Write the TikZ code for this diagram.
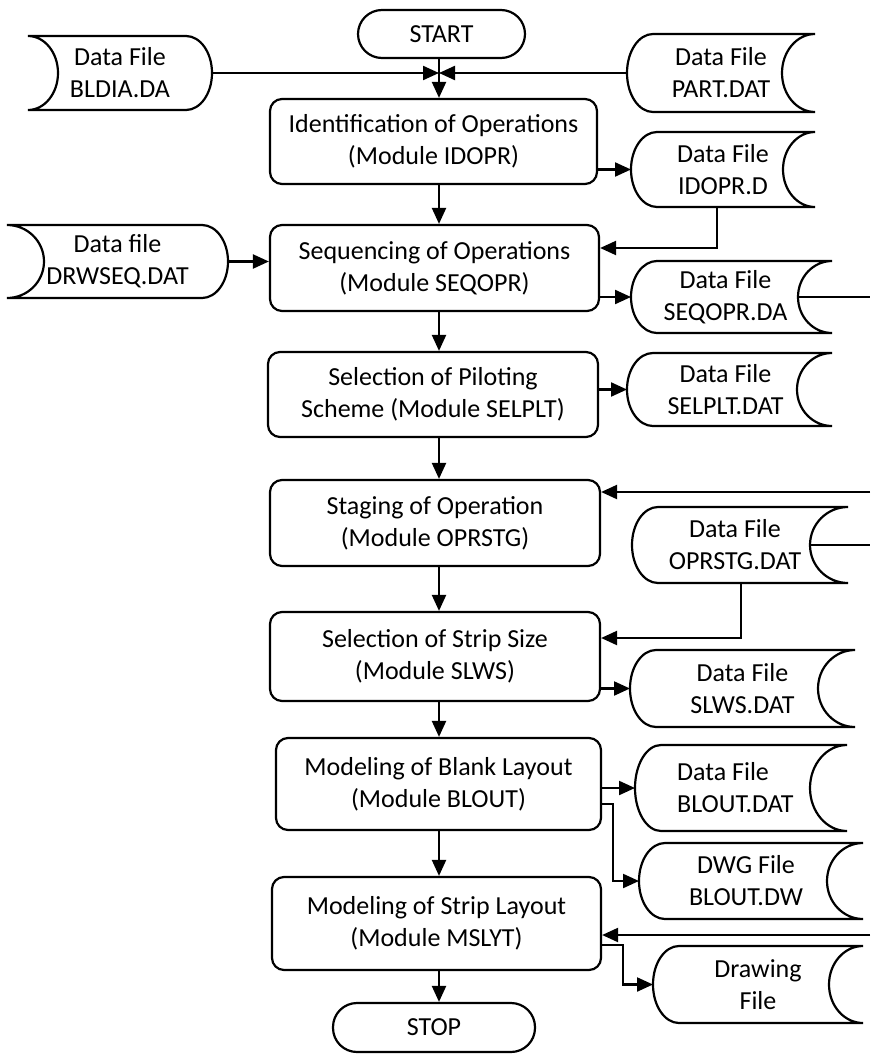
\documentclass[tikz,border=0pt]{standalone}
\usepackage{fontspec}
\setmainfont{Carlito}
\usetikzlibrary{arrows.meta}
\tikzset{
  lw/.style={line width=2.2pt},
  proc/.style={draw, lw, rounded corners=12pt, align=center, inner sep=0pt},
  term/.style={draw, lw, rounded corners=24pt, align=center, inner sep=0pt},
  arr/.style={lw, -{Triangle[length=16pt,width=14pt]}},
  ftext/.style={align=center, inner sep=0pt},
  fbox/.style={inner sep=0pt, outer sep=0pt, draw=none},
  every node/.style={font=\fontsize{26}{32}\selectfont}
}
% right-side file: convex left, concave right
\newcommand{\rfile}[8][]{%
 \pgfmathsetmacro\fL{#3}\pgfmathsetmacro\fT{#4}\pgfmathsetmacro\fR{#5}\pgfmathsetmacro\fB{#6}%
 \pgfmathsetmacro\fM{(\fT+\fB)/2}\pgfmathsetmacro\fh{(\fB-\fT)/2}%
 \pgfmathsetmacro\fd{#7}\pgfmathsetmacro\fc{26}%
 \pgfmathsetmacro\fxa{\fL+\fc}\pgfmathsetmacro\fxb{\fR-0.552*\fd}\pgfmathsetmacro\fxc{\fR-\fd}%
 \pgfmathsetmacro\fxe{\fL+\fc-0.552*\fc}\pgfmathsetmacro\fya{\fM-0.552*\fh}\pgfmathsetmacro\fyb{\fM+0.552*\fh}%
 \pgfmathsetmacro\fX{(\fL+\fR)/2}%
 \node[fbox, minimum width={(\fR-\fL)*1pt}, minimum height={(\fB-\fT)*1pt}] (#2) at (\fX,\fM) {};
 \coordinate (#2-c) at (\fxc,\fM);
 \draw[lw] (\fxa,\fT) -- (\fR,\fT) .. controls (\fxb,\fT) and (\fxc,\fya) .. (\fxc,\fM)
   .. controls (\fxc,\fyb) and (\fxb,\fB) .. (\fR,\fB) -- (\fxa,\fB)
   .. controls (\fxe,\fB) and (\fL,\fyb) .. (\fL,\fM)
   .. controls (\fL,\fya) and (\fxe,\fT) .. (\fxa,\fT) -- cycle;
 \node[ftext,#1] (#2-t) at (\fX,\fM) {#8};
}
% left-side file: concave left, convex right
\newcommand{\lfile}[8][]{%
 \pgfmathsetmacro\fL{#3}\pgfmathsetmacro\fT{#4}\pgfmathsetmacro\fR{#5}\pgfmathsetmacro\fB{#6}%
 \pgfmathsetmacro\fM{(\fT+\fB)/2}\pgfmathsetmacro\fh{(\fB-\fT)/2}%
 \pgfmathsetmacro\fd{#7}\pgfmathsetmacro\fc{26}%
 \pgfmathsetmacro\fxa{\fR-\fc}\pgfmathsetmacro\fxb{\fR-\fc+0.552*\fc}%
 \pgfmathsetmacro\fxc{\fL+\fd}\pgfmathsetmacro\fxg{\fL+0.552*\fd}%
 \pgfmathsetmacro\fya{\fM-0.552*\fh}\pgfmathsetmacro\fyb{\fM+0.552*\fh}%
 \pgfmathsetmacro\fX{(\fL+\fR)/2}%
 \node[fbox, minimum width={(\fR-\fL)*1pt}, minimum height={(\fB-\fT)*1pt}] (#2) at (\fX,\fM) {};
 \coordinate (#2-c) at (\fxc,\fM);
 \draw[lw] (\fL,\fT) -- (\fxa,\fT) .. controls (\fxb,\fT) and (\fR,\fya) .. (\fR,\fM)
   .. controls (\fR,\fyb) and (\fxb,\fB) .. (\fxa,\fB) -- (\fL,\fB)
   .. controls (\fxg,\fB) and (\fxc,\fyb) .. (\fxc,\fM)
   .. controls (\fxc,\fya) and (\fxg,\fT) .. (\fL,\fT) -- cycle;
 \node[ftext,#1] (#2-t) at (\fX,\fM) {#8};
}
\begin{document}
\begin{tikzpicture}[x=1pt,y=-1pt]
\useasboundingbox (0,0) rectangle (870,1057);
\coordinate (col) at (439,0);
\coordinate (edge) at (870,0);
\coordinate (jn) at (439,73);

% terminals
\node[term, minimum width=167pt, minimum height=48pt] (start) at (441.5,34) {START};
\node[term, minimum width=202pt, minimum height=49pt] (stop) at (434,1027.5) {STOP};

% process boxes
\node[proc, minimum width=327pt, minimum height=85pt] (ident) at (433.5,141.5) {Identification of Operations\\(Module IDOPR)};
\node[proc, minimum width=329pt, minimum height=86pt] (seq) at (434.5,268) {Sequencing of Operations\\(Module SEQOPR)};
\node[proc, minimum width=330pt, minimum height=85pt] (selp) at (433,394.5) {Selection of Piloting\\Scheme (Module SELPLT)};
\node[proc, minimum width=330pt, minimum height=86pt] (stag) at (435,523) {Staging of Operation\\(Module OPRSTG)};
\node[proc, minimum width=330pt, minimum height=89pt] (strip) at (435,656.5) {Selection of Strip Size\\(Module SLWS)};
\node[proc, minimum width=325pt, minimum height=92pt] (blout) at (438.5,784) {Modeling of Blank Layout\\(Module BLOUT)};
\node[proc, minimum width=329pt, minimum height=93pt] (mslyt) at (436.5,923.5) {Modeling of Strip Layout\\(Module MSLYT)};

% data files
\lfile{bldia}{28}{36}{212}{110}{30}{Data File\\BLDIA.DA}
\lfile{drwseq}{7}{225}{228}{298}{37}{Data file\\DRWSEQ.DAT}
\rfile{part}{627}{34}{815}{112}{33}{Data File\\PART.DAT}
\rfile{idopr}{631}{132}{815}{207}{32}{Data File\\IDOPR.D}
\rfile[xshift=-6pt]{seqopr}{631}{261}{832}{333}{34}{Data File\\SEQOPR.DA}
\rfile[xshift=-4pt]{selplt}{627}{353}{832}{426}{35}{Data File\\SELPLT.DAT}
\rfile[xshift=-5pt]{oprstg}{632}{507}{848}{583}{38}{Data File\\OPRSTG.DAT}
\rfile{slws}{630}{650}{855}{727}{37}{Data File\\SLWS.DAT}
\rfile[align=left, anchor=west, xshift=-64pt]{bloutdat}{635}{745}{847}{831}{37}{Data File\\BLOUT.DAT}
\rfile[xshift=-5pt]{dwg}{639}{843}{863}{919}{36}{DWG File\\BLOUT.DW}
\rfile{drawing}{653}{946}{863}{1023}{34}{Drawing\\File}

% main flow
\draw[arr] (start.south -| col) -- (ident.north -| col);
\draw[arr] (ident.south -| col) -- (seq.north -| col);
\draw[arr] (seq.south -| col) -- (selp.north -| col);
\draw[arr] (selp.south -| col) -- (stag.north -| col);
\draw[arr] (stag.south -| col) -- (strip.north -| col);
\draw[arr] (strip.south -| col) -- (blout.north -| col);
\draw[arr] (blout.south -| col) -- (mslyt.north -| col);
\draw[arr] (mslyt.south -| col) -- (stop.north -| col);

% inputs at top
\draw[arr] (bldia.east) -- (bldia.east -| jn);
\draw[arr] (part.west) -- (part.west -| jn);

% file connections
\draw[arr] (ident.east |- idopr.west) -- (idopr.west);
\coordinate (k1) at (717,248);
\draw[arr] (idopr.south -| k1) -- (k1) -- (k1 -| seq.east);
\draw[arr] (drwseq.east) -- (drwseq.east -| seq.west);
\draw[arr] (seq.east |- seqopr.west) -- (seqopr.west);
\draw[lw] (seqopr-c) -- (seqopr-c -| edge);
\draw[arr] (selp.east |- selplt.west) -- (selplt.west);
\coordinate (in1) at (870,492);
\draw[arr] (in1) -- (in1 -| stag.east);
\draw[lw] (oprstg-c) -- (oprstg-c -| edge);
\coordinate (k2) at (741,638);
\draw[arr] (oprstg.south -| k2) -- (k2) -- (k2 -| strip.east);
\draw[arr] (strip.east |- slws.west) -- (slws.west);
\draw[arr] (blout.east |- bloutdat.west) -- (bloutdat.west);
\coordinate (k3) at (613,804);
\draw[arr] (blout.east |- k3) -- (k3) -- (k3 |- dwg.west) -- (dwg.west);
\coordinate (in2) at (870,935);
\draw[arr] (in2) -- (in2 -| mslyt.east);
\coordinate (k4) at (623,945);
\draw[arr] (mslyt.east |- k4) -- (k4) -- (k4 |- drawing.west) -- (drawing.west);
\end{tikzpicture}
\end{document}
